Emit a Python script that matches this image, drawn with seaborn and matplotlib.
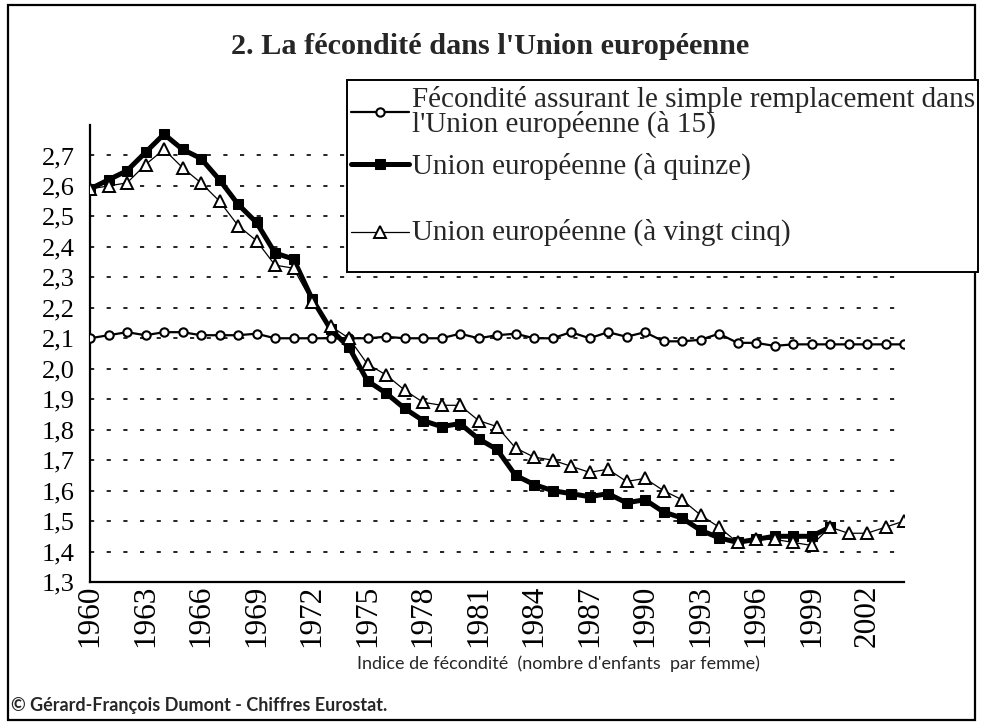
import numpy as np
import matplotlib.pyplot as plt
import seaborn as sns
from matplotlib.patches import Rectangle
from matplotlib.ticker import FixedLocator, MultipleLocator

# données
years = list(range(1960, 2005))
remplacement = [2.10, 2.11, 2.12, 2.11, 2.12, 2.12, 2.11, 2.11, 2.11, 2.115,
                2.10, 2.10, 2.10, 2.10, 2.10, 2.10, 2.105, 2.10, 2.10, 2.10,
                2.115, 2.10, 2.11, 2.115, 2.10, 2.10, 2.12, 2.10, 2.12, 2.105,
                2.12, 2.09, 2.09, 2.095, 2.115, 2.085, 2.085, 2.075, 2.08, 2.08,
                2.08, 2.08, 2.08, 2.08, 2.08]
years_ue15 = list(range(1960, 2001))
ue15 = [2.59, 2.62, 2.65, 2.71, 2.77, 2.72, 2.69, 2.62, 2.54, 2.48,
        2.38, 2.36, 2.23, 2.13, 2.07, 1.96, 1.92, 1.87, 1.83, 1.81,
        1.82, 1.77, 1.735, 1.65, 1.62, 1.60, 1.59, 1.58, 1.59, 1.56,
        1.57, 1.53, 1.51, 1.47, 1.445, 1.43, 1.44, 1.45, 1.45, 1.45,
        1.48]
ue25 = [2.59, 2.60, 2.61, 2.67, 2.72, 2.66, 2.61, 2.55, 2.47, 2.42,
        2.34, 2.33, 2.22, 2.14, 2.10, 2.015, 1.98, 1.93, 1.89, 1.88,
        1.88, 1.83, 1.81, 1.74, 1.71, 1.70, 1.68, 1.66, 1.67, 1.63,
        1.64, 1.60, 1.57, 1.52, 1.48, 1.43, 1.44, 1.44, 1.43, 1.42,
        1.48, 1.46, 1.46, 1.48, 1.50]
y_ticks = [1.3, 1.4, 1.5, 1.6, 1.7, 1.8, 1.9, 2.0, 2.1, 2.2, 2.3, 2.4, 2.5, 2.6, 2.7]
x_ticks = list(range(1960, 2003, 3))

lab_rempl = "Fécondité assurant le simple remplacement dans\nl'Union européenne (à 15)"
lab_ue15 = "Union européenne (à quinze)"
lab_ue25 = "\nUnion européenne (à vingt cinq)\n"

sns.set_style("white")
plt.rcParams['font.family'] = ['Liberation Serif', 'DejaVu Serif']

fig = plt.figure(figsize=(9.83, 7.26), dpi=100)
ax = fig.add_axes([90/983, 1-582/726, (904-90)/983, (582-125)/726])

sns.lineplot(x=years, y=remplacement, ax=ax, color='black', linewidth=1.6,
             marker='o', markersize=6, markerfacecolor='white',
             markeredgecolor='black', markeredgewidth=1.5, label=lab_rempl, zorder=3)
sns.lineplot(x=years_ue15, y=ue15, ax=ax, color='black', linewidth=3.6,
             marker='s', markersize=6.5, markerfacecolor='black',
             markeredgecolor='black', label=lab_ue15, zorder=4)
sns.lineplot(x=years, y=ue25, ax=ax, color='black', linewidth=0.9,
             marker='^', markersize=9, markerfacecolor='white',
             markeredgecolor='black', markeredgewidth=1.4, label=lab_ue25, zorder=5)

ax.set_xlim(1960, 2004)
ax.set_ylim(1.3, 2.8)
ax.yaxis.set_major_locator(FixedLocator(y_ticks))
ax.set_yticklabels([f"{v:.1f}".replace('.', ',') for v in y_ticks], fontsize=19)
ax.xaxis.set_major_locator(FixedLocator(x_ticks))
ax.xaxis.set_minor_locator(MultipleLocator(1))
ax.set_xticklabels([str(y) for y in x_ticks], rotation=90, fontsize=22.5)
ax.tick_params(axis='x', which='both', direction='in', length=6, width=1.2,
               colors='black', pad=2)
ax.tick_params(axis='y', direction='inout', length=10, width=1.2, colors='black', pad=6)

for v in y_ticks[1:]:
    ax.axhline(v, color='black', linewidth=1.2, linestyle=(0, (2.5, 7.5)), zorder=1)

for side in ['top', 'right']:
    ax.spines[side].set_visible(False)
for side in ['left', 'bottom']:
    ax.spines[side].set_color('black')
    ax.spines[side].set_linewidth(1.6)
ax.set_xlabel('')
ax.set_ylabel('')

# légende
handles, labels = ax.get_legend_handles_labels()
ax.get_legend().remove()
fig.add_artist(Rectangle((347/983, 1-272/726), (978-347)/983, (272-80)/726,
                         transform=fig.transFigure, fill=True, facecolor='white',
                         edgecolor='black', linewidth=1.4, zorder=6))
leg = fig.legend(handles, labels, loc='upper left', bbox_to_anchor=(348/983, 1-83/726),
                 bbox_transform=fig.transFigure, frameon=False, fontsize=21,
                 handlelength=2.0, handletextpad=0.08, labelspacing=0.5,
                 borderpad=0.1, borderaxespad=0)
leg.set_zorder(7)
for t in leg.get_texts():
    t.set_linespacing(0.9)

fig.text(0.499, 1-46/726, "2. La fécondité dans l'Union européenne",
         ha='center', va='center', fontsize=21.8, fontweight='bold')
fig.text(0.568, 1-664/726, "Indice de fécondité  (nombre d'enfants  par femme)",
         ha='center', va='center', fontsize=13, family=['Lato', 'DejaVu Sans'])
fig.text(0.011, 1-705/726, "© Gérard-François Dumont - Chiffres Eurostat.",
         ha='left', va='center', fontsize=13, fontweight='bold',
         family=['Lato', 'DejaVu Sans'])

fig.add_artist(Rectangle((8/983, 1-720/726), (975-8)/983, (720-5)/726,
                         transform=fig.transFigure, fill=False,
                         edgecolor='black', linewidth=1.6))

fig.savefig('out.png', dpi=100)
